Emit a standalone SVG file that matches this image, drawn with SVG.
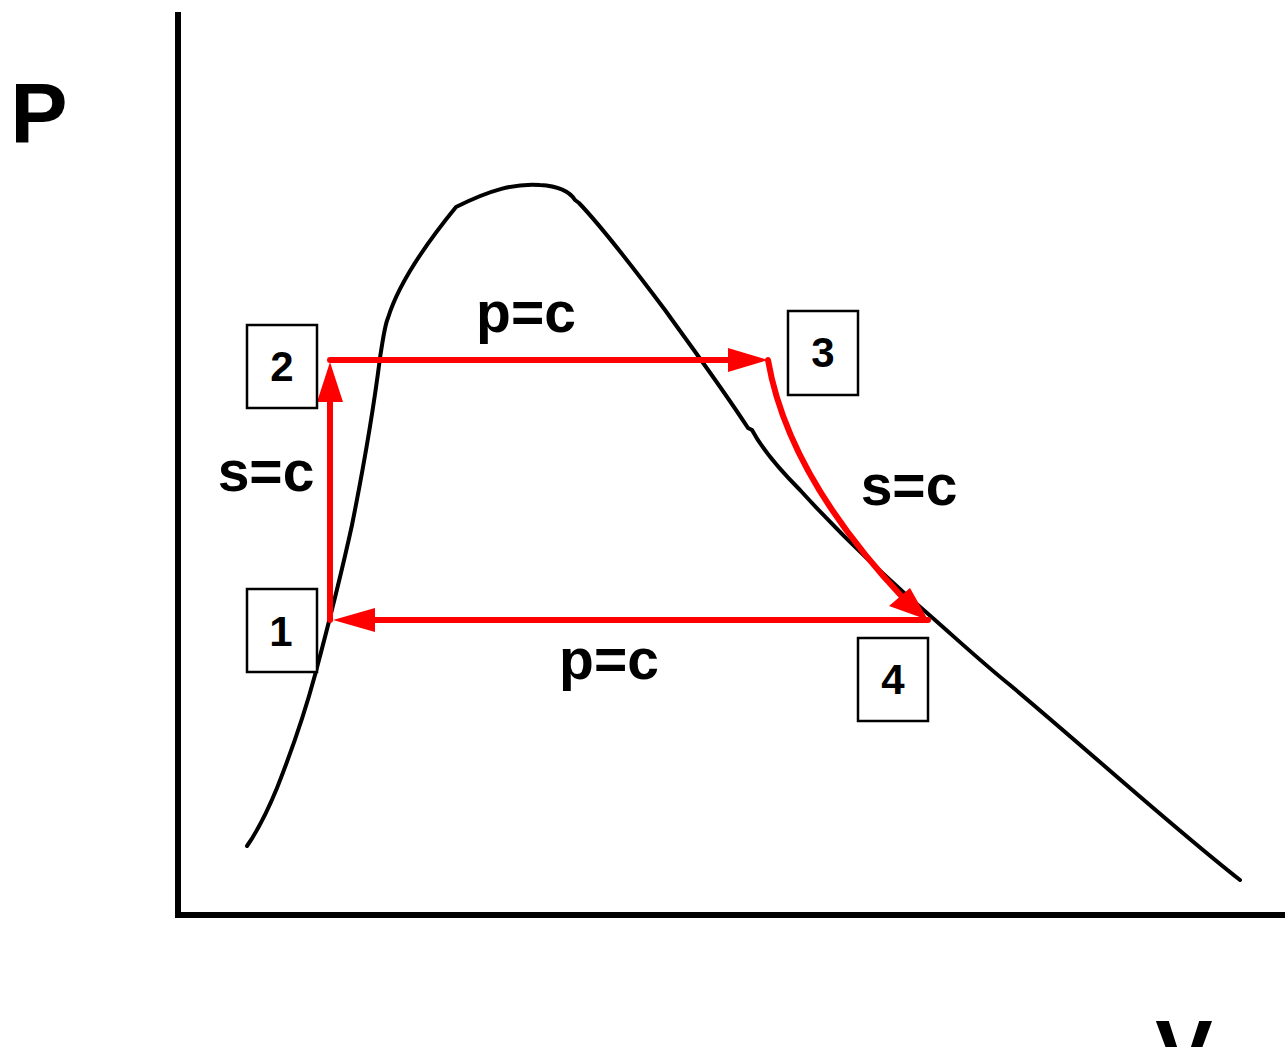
<svg xmlns="http://www.w3.org/2000/svg" width="1285" height="1047" viewBox="0 0 1285 1047">
<style>
.ax{stroke:#000;stroke-width:6;fill:none}
.crv{stroke:#000;stroke-width:4;fill:none;stroke-linecap:round;stroke-linejoin:round}
.red{stroke:#f00;stroke-width:6;fill:none;stroke-linecap:round}
.box{fill:#fff;stroke:#000;stroke-width:2.5}
.t{font-family:"Liberation Sans",Arial,sans-serif;font-weight:bold;fill:#000;text-anchor:middle}
.lbl{font-size:57px}
.num{font-size:42px}
.axl{font-size:86px}
</style>
<g id="axes">
<line class="ax" x1="178" y1="12" x2="178" y2="918"/>
<line class="ax" x1="175" y1="915" x2="1285" y2="915"/>
<text class="t axl" x="39" y="143">P</text>
<text class="t axl" x="1184" y="1080">V</text>
</g>
<g id="dome">
<path class="crv" d="M247,846 C258,830 268,810 277,788 C292,750 305,712 315,675 C327,630 340,580 352,525 C364,465 374,405 380,358 C383,338 385,324 388,318 C398,285 425,245 456,207 C490,190 515,183 540,185 C558,186 570,192 575,200 L579,203 C600,225 635,270 665,310 C690,345 720,385 748,428 L752,430 C760,445 775,465 800,490 C850,545 900,590 935,620 C960,642 985,665 1010,685 C1090,752 1170,825 1240,880"/>
</g>
<g id="connectors">
<path class="red" d="M330,360 L740,360"/>
<path d="M768,360 L728,348 L728,372 Z" fill="#f00"/>
<path class="red" d="M330,620 L330,395"/>
<path d="M330,362 L317,402 L343,402 Z" fill="#f00"/>
<path class="red" d="M928,620 L370,620"/>
<path d="M333,620 L375,608 L375,632 Z" fill="#f00"/>
<path class="red" d="M768,360 C780,430 820,510 905,600"/>
<path d="M928,620 L889,606 L910,588 Z" fill="#f00"/>
</g>
<g id="node1">
<rect class="box" x="247" y="589" width="70" height="83"/>
<text class="t num" x="281" y="646">1</text>
</g>
<g id="node2">
<rect class="box" x="247" y="325" width="70" height="83"/>
<text class="t num" x="282" y="381">2</text>
</g>
<g id="node3">
<rect class="box" x="788" y="311" width="70" height="84"/>
<text class="t num" x="823" y="367">3</text>
</g>
<g id="node4">
<rect class="box" x="858" y="638" width="70" height="83"/>
<text class="t num" x="893" y="694">4</text>
</g>
<g id="labels">
<text class="t lbl" x="526" y="332">p=c</text>
<text class="t lbl" x="266" y="491">s=c</text>
<text class="t lbl" x="909" y="505">s=c</text>
<text class="t lbl" x="609" y="679">p=c</text>
</g>
</svg>
